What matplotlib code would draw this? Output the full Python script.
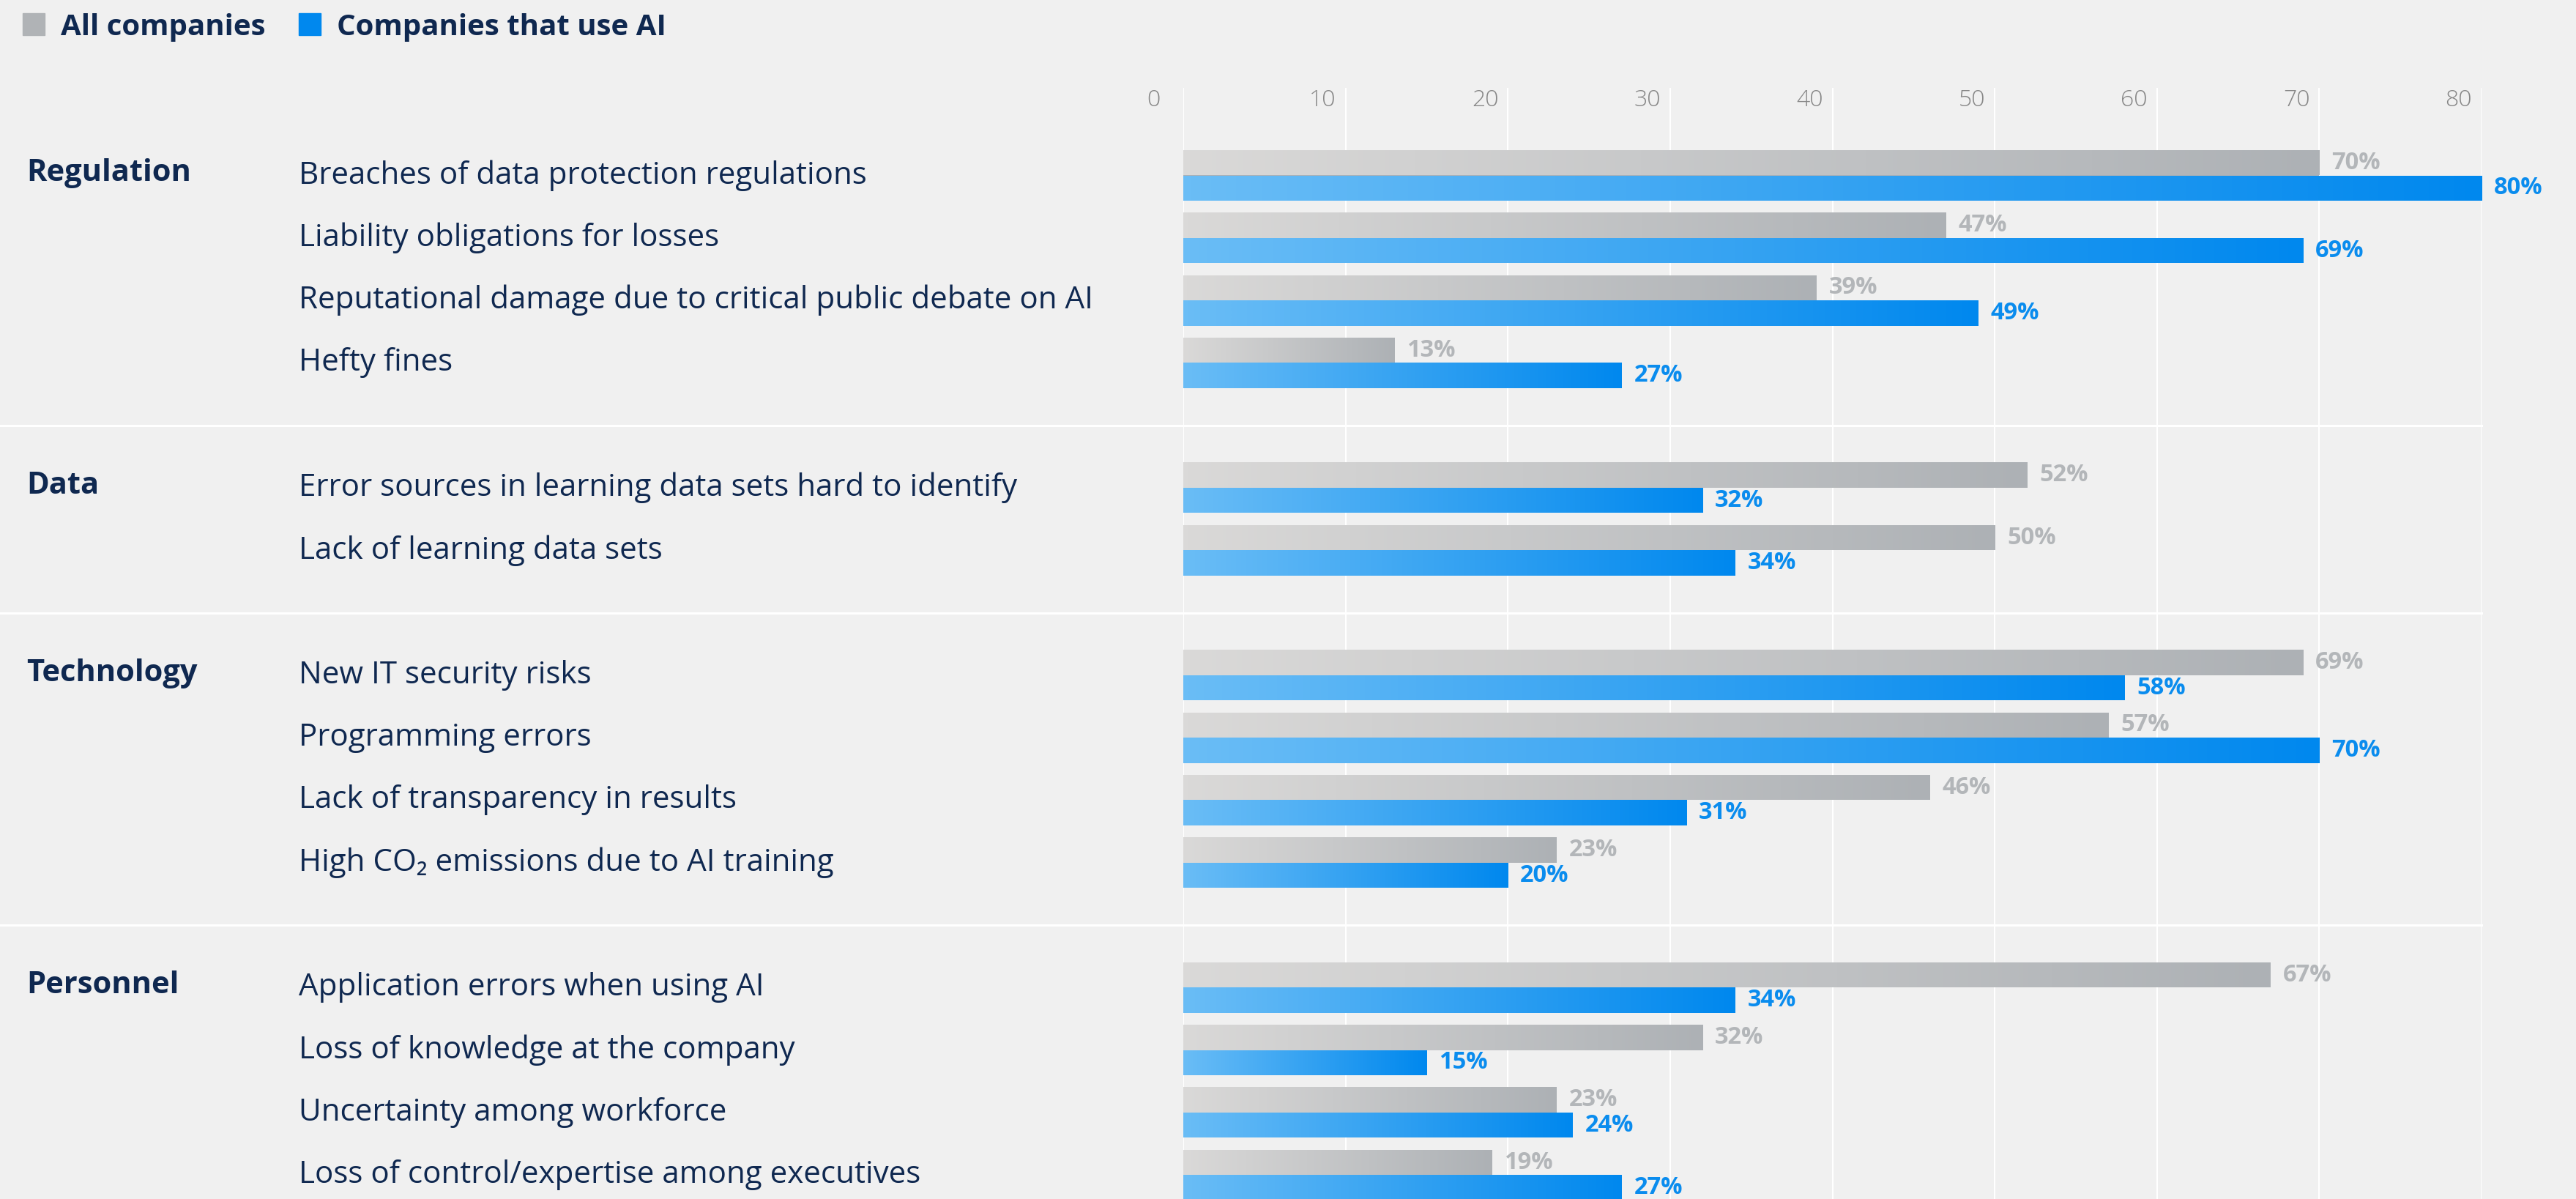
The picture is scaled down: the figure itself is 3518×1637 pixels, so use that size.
import numpy as np
import matplotlib
matplotlib.use('Agg')
import matplotlib.pyplot as plt
import matplotlib.transforms as mtransforms
from matplotlib.colors import LinearSegmentedColormap
from matplotlib.patches import Rectangle

plt.rcParams['font.family'] = ['Open Sans', 'DejaVu Sans']

# data
groups = ['Regulation', 'Data', 'Technology', 'Personnel']
group_sizes = [4, 2, 4, 4]
risks = [
    'Breaches of data protection regulations',
    'Liability obligations for losses',
    'Reputational damage due to critical public debate on AI',
    'Hefty fines',
    'Error sources in learning data sets hard to identify',
    'Lack of learning data sets',
    'New IT security risks',
    'Programming errors',
    'Lack of transparency in results',
    'High CO\u2082 emissions due to AI training',
    'Application errors when using AI',
    'Loss of knowledge at the company',
    'Uncertainty among workforce',
    'Loss of control/expertise among executives',
]
all_companies = [70, 47, 39, 13, 52, 50, 69, 57, 46, 23, 67, 32, 23, 19]
ai_companies = [80, 69, 49, 27, 32, 34, 58, 70, 31, 20, 34, 15, 24, 27]
x_ticks = [0, 10, 20, 30, 40, 50, 60, 70, 80]

BG = '#f0f0f0'
NAVY = '#0f2850'
GRAY_C = ('#dad9d8', '#adb1b5')
BLUE_C = ('#6abdf6', '#0088ee')

W, H = 3518, 1637
fig = plt.figure(figsize=(W / 100, H / 100), dpi=100, facecolor=BG)
x0px, x80px, top_px = 1616, 3389, 120
ax = fig.add_axes([x0px / W, 0, (x80px - x0px) / W, 1 - top_px / H])
ax.set_facecolor(BG)
for s in ax.spines.values():
    s.set_visible(False)

# row positions: one empty slot between groups
ypos = []
y = 0
for n in group_sizes:
    ypos += list(range(y, y + n))
    y += n + 1
ypos = np.array(ypos, dtype=float)

pitch = 85.3
h = 34.5 / pitch

def grad_bar(yc, w, cols):
    bar = ax.barh(yc, w, height=h, color=cols[1], zorder=3, linewidth=0)[0]
    cmap = LinearSegmentedColormap.from_list('g', list(cols))
    im = ax.imshow(np.linspace(0, 1, 256).reshape(1, -1), cmap=cmap,
                   extent=(0, w, yc + h / 2, yc - h / 2), aspect='auto',
                   zorder=4, interpolation='bilinear')
    im.set_clip_path(bar)

for yc, a, b in zip(ypos, all_companies, ai_companies):
    grad_bar(yc - h / 2, a, GRAY_C)
    grad_bar(yc + h / 2, b, BLUE_C)
    off = mtransforms.offset_copy(ax.transData, fig=fig, x=17, y=0, units='dots')
    ax.text(a, yc - h / 2, f'{a}%', transform=off, ha='left', va='center',
            fontsize=23.5, fontweight='bold', color='#b3b6b9', zorder=5)
    ax.text(b, yc + h / 2, f'{b}%', transform=off, ha='left', va='center',
            fontsize=23.5, fontweight='bold', color='#0a8cee', zorder=5)

ax.set_xlim(0, 80)
ax.set_ylim((H - 239.5) / pitch, (top_px - 239.5) / pitch)
ax.set_xticks([])
ax.set_yticks([])

# vertical grid
for t in x_ticks:
    ax.axvline(t, color='white', lw=1.5, zorder=1)
    dx = -31 if t == 0 else -13
    off = mtransforms.offset_copy(ax.transData, fig=fig, x=dx, y=0, units='dots')
    ax.text(t, (137 - 239.5) / pitch, str(t), transform=off, ha='right', va='center',
            fontsize=23, fontweight='light', color='#878787', clip_on=False)

# group separators
starts = np.cumsum([0] + group_sizes[:-1])
sep_y = [(ypos[s - 1] + ypos[s]) / 2 for s in starts[1:]]
for sy in sep_y:
    ax.axhline(sy, xmin=-x0px / (x80px - x0px), xmax=1, color='white', lw=2.2,
               zorder=2, clip_on=False)

# labels
tr = mtransforms.blended_transform_factory(fig.transFigure, ax.transData)
for yc, r in zip(ypos, risks):
    fig.text(408 / W, yc, r, transform=tr, ha='left', va='center',
             fontsize=30.3, color=NAVY)
for s, g in zip(starts, groups):
    fig.text(36 / W, ypos[s] - 0.03, g, transform=tr, ha='left', va='center',
             fontsize=30, fontweight='bold', color=NAVY)

# legend
fig.patches.append(Rectangle((31 / W, 1 - 48 / H), 30 / W, 30 / H,
                             transform=fig.transFigure, color='#b0b3b6'))
fig.patches.append(Rectangle((408 / W, 1 - 48 / H), 30 / W, 30 / H,
                             transform=fig.transFigure, color='#0088ee'))
fig.text(83 / W, 1 - 48 / H, 'All companies', ha='left', va='baseline',
         fontsize=29, fontweight='bold', color=NAVY)
fig.text(460 / W, 1 - 48 / H, 'Companies that use AI', ha='left', va='baseline',
         fontsize=29, fontweight='bold', color=NAVY)

fig.savefig('out.png', dpi=100, facecolor=BG)
